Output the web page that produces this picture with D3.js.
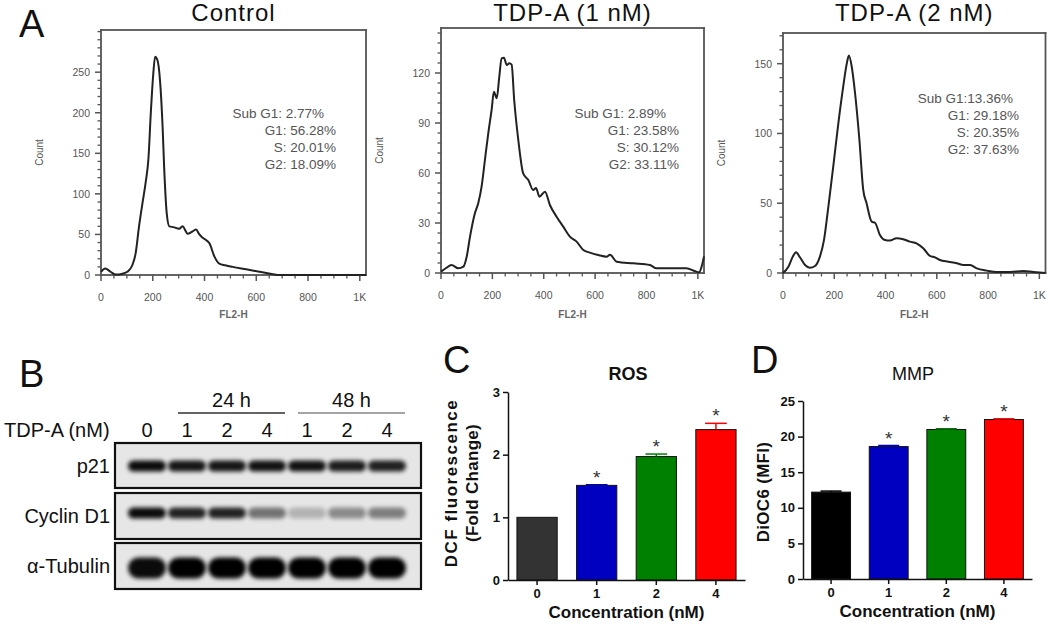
<!DOCTYPE html>
<html><head><meta charset="utf-8">
<script src="https://cdn.jsdelivr.net/npm/d3@7"></script>
<style>body{margin:0;background:#fff}svg{display:block}text{font-family:"Liberation Sans",Arial,sans-serif}</style>
</head><body><svg id="c" width="1050" height="624"></svg>
<script>
// ---------------- DATA ----------------
const histTitles = ["Control", "TDP-A (1 nM)", "TDP-A (2 nM)"];
// [FL2-H, count]
const controlHist = [[0,4],[16,8],[37,4],[57,0.5],[83,1.6],[102,4],[121,12],[134,27],[147,60],[160,88],[173,115],[183,142],[193,203],[202,248],[209,269],[218,265],[228,240],[238,183],[244,133],[254,76],[264,60],[280,59],[302,57],[315,60],[335,51],[350,53],[367,56],[380,50],[393,46],[419,39],[438,23],[457,14],[480,12],[509,10],[561,7],[612,4],[664,1],[690,0],[750,0],[1024,0]];
const tdp1Hist = [[0,0.8],[20,3],[41,4.8],[67,2.8],[87,3.8],[100,9.8],[113,21.8],[132,35.8],[145,41.8],[158,51.8],[171,67.8],[184,83.8],[197,97.8],[206,108.8],[217,104.8],[227,117.8],[236,128.8],[245,129.2],[256,124.8],[266,125.8],[275,125],[285,103.8],[301,79.8],[320,59.8],[340,55.8],[359,49.8],[370,51],[383,45.8],[405,48.8],[424,40.8],[450,33.8],[476,27.8],[502,21.8],[528,18.8],[554,13.8],[580,12.2],[612,10.8],[645,9.8],[658,11],[684,6.8],[749,5.8],[813,4.8],[839,2.8],[956,2.8],[990,1],[1005,0.5],[1015,4],[1024,10]];
const tdp2Hist = [[0,0],[21,4.5],[38,11.7],[51,14.8],[66,11.3],[86,5.7],[105,3.8],[125,5],[144,11.7],[160,23.7],[177,47.6],[196,76.3],[216,107.4],[235,133.7],[248,149.3],[257,155.8],[268,148],[281,129],[298,95.5],[313,59.6],[326,50],[346,36.8],[359,36],[378,27.3],[398,23.7],[417,23.3],[443,24.9],[469,24.2],[495,22.5],[521,21.3],[547,17.7],[573,12.2],[593,11.2],[612,9.3],[645,8.1],[678,7],[704,5.7],[730,5.7],[756,3.3],[795,1.7],[834,0.7],[886,0.7],[938,1.4],[977,0.7],[1024,0]];
const controlStats = ["Sub G1: 2.77%", "G1: 56.28%", "S: 20.01%", "G2: 18.09%"];
const tdp1Stats = ["Sub G1: 2.89%", "G1: 23.58%", "S: 30.12%", "G2: 33.11%"];
const tdp2Stats = ["Sub G1:13.36%", "G1: 29.18%", "S:  20.35%", "G2: 37.63%"];
const histXTicks = [0, 200, 400, 600, 800, 1000];
const histXTickLabels = ["0", "200", "400", "600", "800", "1K"];
const controlYTicks = [0, 50, 100, 150, 200, 250];
const tdp1YTicks = [0, 30, 60, 90, 120];
const tdp2YTicks = [0, 50, 100, 150];
const controlYMax = 302, tdp1YMax = 147, tdp2YMax = 172;

const blotLanes = ["0", "1", "2", "4", "1", "2", "4"];
const blotGroups = ["24 h", "48 h"];
const blotGroupLanes = [[1, 3], [4, 6]];
const blotRows = ["p21", "Cyclin D1", "α-Tubulin"];
const p21Bands = [0.95, 0.9, 0.9, 0.92, 0.92, 0.88, 0.86];
const cyclinBands = [0.95, 0.85, 0.85, 0.5, 0.22, 0.4, 0.45];
const tubulinBands = [0.95, 1, 1, 1, 1, 1, 1];

const concentrations = ["0", "1", "2", "4"];
const rosMean = [1.0, 1.51, 1.97, 2.40];
const rosErr = [0, 0.01, 0.04, 0.10];
const mmpMean = [12.2, 18.6, 21.0, 22.4];
const mmpErr = [0.15, 0.15, 0.1, 0.1];
const significant = [false, true, true, true];
const rosColors = ["#333333", "#0000c0", "#008000", "#ff0000"];
const mmpColors = ["#000000", "#0000c0", "#008000", "#ff0000"];
const rosTicks = [0, 1, 2, 3];
const mmpTicks = [0, 5, 10, 15, 20, 25];

// ---------------- DRAW ----------------
const svg = d3.select("#c");

function panelLetter(t, x, y) {
  svg.append("text").attr("x", x).attr("y", y).attr("font-size", 38).attr("fill", "#111").text(t);
}
panelLetter("A", 19, 37);
panelLetter("B", 19, 387);
panelLetter("C", 443, 373);
panelLetter("D", 751, 373);

// ---- Histograms ----
const boxColor = "#555";
function histPanel(cfg) {
  const x = d3.scaleLinear().domain([0, 1024]).range([cfg.x0, cfg.x1]);
  const y = d3.scaleLinear().domain([0, cfg.ymax]).range([cfg.bottom, cfg.top]);
  const g = svg.append("g");
  const bx0 = x(0), bx1 = x(1024), by0 = y(cfg.ymax), by1 = y(0);
  const bw = 1.8;
  [[bx0 - bw / 2, by0 - bw / 2, bx1 - bx0 + bw, bw], [bx0 - bw / 2, by1 - bw / 2, bx1 - bx0 + bw, bw],
   [bx0 - bw / 2, by0 - bw / 2, bw, by1 - by0 + bw], [bx1 - bw / 2, by0 - bw / 2, bw, by1 - by0 + bw]]
    .forEach(r => g.append("rect").attr("x", r[0]).attr("y", r[1]).attr("width", r[2]).attr("height", r[3]).attr("fill", boxColor));
  const majX = histXTicks, minX = d3.range(0, 1025, 50).filter(v => !histXTicks.includes(v));
  const majY = cfg.yticks, minY = d3.range(0, cfg.ymax, cfg.minor).filter(v => !cfg.yticks.includes(v));
  majX.forEach(d => g.append("rect").attr("x", x(d) - 0.75).attr("y", by1).attr("width", 1.5).attr("height", 6).attr("fill", boxColor));
  minX.forEach(d => g.append("rect").attr("x", x(d) - 0.65).attr("y", by1).attr("width", 1.3).attr("height", 3.5).attr("fill", boxColor));
  majY.forEach(d => g.append("rect").attr("x", bx0 - 6).attr("y", y(d) - 0.75).attr("width", 6).attr("height", 1.5).attr("fill", boxColor));
  minY.forEach(d => g.append("rect").attr("x", bx0 - 3.5).attr("y", y(d) - 0.65).attr("width", 3.5).attr("height", 1.3).attr("fill", boxColor));
  g.selectAll(null).data(majX).join("text").attr("x", d => x(d)).attr("y", cfg.bottom + 26)
    .attr("text-anchor", "middle").attr("font-size", 10.5).attr("fill", "#555").text((d, i) => histXTickLabels[i]);
  g.selectAll(null).data(majY).join("text").attr("x", cfg.x0 - 11).attr("y", d => y(d) + 4)
    .attr("text-anchor", "end").attr("font-size", 10.5).attr("fill", "#555").text(d => d);
  g.append("path").datum(cfg.data)
    .attr("d", d3.line().x(d => x(d[0])).y(d => y(d[1])).curve(d3.curveMonotoneX))
    .attr("fill", "none").attr("stroke", "#222").attr("stroke-width", 2);
  const cx = (bx0 + bx1) / 2;
  g.append("text").attr("x", cx).attr("y", 21).attr("text-anchor", "middle").attr("font-size", 24)
    .attr("letter-spacing", 1).attr("fill", "#111").text(cfg.title);
  g.append("text").attr("transform", `translate(${cfg.countX},${(cfg.top + cfg.bottom) / 2}) rotate(-90)`)
    .attr("text-anchor", "middle").attr("font-size", 10).attr("fill", "#555").text("Count");
  g.append("text").attr("x", cx).attr("y", 318).attr("text-anchor", "middle").attr("font-size", 10)
    .attr("font-weight", "bold").attr("fill", "#666").text("FL2-H");
  cfg.stats.forEach((s, i) => {
    g.append("text").attr("x", cfg.statX - (i === 0 ? cfg.firstShift : 0)).attr("y", cfg.statY + i * 17)
      .attr("text-anchor", "end").attr("font-size", 13.5).attr("fill", "#555").text(s);
  });
}
histPanel({title: histTitles[0], data: controlHist, ymax: controlYMax, yticks: controlYTicks, minor: 10,
  x0: 101, x1: 366, top: 30, bottom: 275, countX: 43, stats: controlStats, statX: 336, statY: 118, firstShift: 12});
histPanel({title: histTitles[1], data: tdp1Hist, ymax: tdp1YMax, yticks: tdp1YTicks, minor: 6,
  x0: 441, x1: 704, top: 28, bottom: 273, countX: 383, stats: tdp1Stats, statX: 679, statY: 118, firstShift: 13});
histPanel({title: histTitles[2], data: tdp2Hist, ymax: tdp2YMax, yticks: tdp2YTicks, minor: 10,
  x0: 783, x1: 1045.5, top: 33, bottom: 273, countX: 725, stats: tdp2Stats, statX: 1019, statY: 103, firstShift: 6});

// ---- Western blot ----
const defs = svg.append("defs");
defs.append("filter").attr("id", "blur").attr("x", "-30%").attr("y", "-60%").attr("width", "160%").attr("height", "220%")
  .append("feGaussianBlur").attr("stdDeviation", 2.2);
const lane = d3.scaleBand().domain(d3.range(blotLanes.length)).range([127, 407]);
const bg = svg.append("g");
bg.append("text").attr("x", 4).attr("y", 437).attr("font-size", 20).attr("fill", "#111").text("TDP-A (nM)");
blotLanes.forEach((l, i) => {
  bg.append("text").attr("x", lane(i) + lane.bandwidth() / 2).attr("y", 437).attr("text-anchor", "middle")
    .attr("font-size", 20).attr("fill", "#111").text(l);
});
blotGroups.forEach((gname, k) => {
  const [a, b] = blotGroupLanes[k];
  const xa = lane(a) + lane.bandwidth() / 2 - 9, xb = lane(b) + lane.bandwidth() / 2 + 18;
  bg.append("rect").attr("x", xa).attr("y", 412.25).attr("width", xb - xa).attr("height", 1.5)
    .attr("fill", k === 0 ? "#333" : "#888");
  bg.append("text").attr("x", (xa + xb) / 2).attr("y", 407).attr("text-anchor", "middle")
    .attr("font-size", 20).attr("fill", "#111").text(gname);
});
const rowBoxes = [[443, 488], [493, 539], [543, 589]];
const rowBandY = [466, 513, 568];
const rowBandH = [11, 11, 21];
const rowData = [p21Bands, cyclinBands, tubulinBands];
rowBoxes.forEach((bx, r) => {
  bg.append("rect").attr("x", 115).attr("y", bx[0]).attr("width", 306).attr("height", bx[1] - bx[0])
    .attr("fill", "#e6e6e6");
  rowData[r].forEach((v, i) => {
    bg.append("rect").attr("x", lane(i) + 1).attr("y", rowBandY[r] - rowBandH[r] / 2)
      .attr("width", lane.bandwidth() - 2).attr("height", rowBandH[r])
      .attr("rx", rowBandH[r] / 2).attr("fill", "#000").attr("opacity", v).attr("filter", "url(#blur)");
  });
  bg.append("rect").attr("x", 115).attr("y", bx[0]).attr("width", 306).attr("height", bx[1] - bx[0])
    .attr("fill", "none").attr("stroke", "#111").attr("stroke-width", 2.2);
  bg.append("text").attr("x", 110).attr("y", (bx[0] + bx[1]) / 2 + 7).attr("text-anchor", "end")
    .attr("font-size", 20).attr("fill", "#111").text(blotRows[r]);
});

// ---- Bar charts ----
function barPanel(cfg) {
  const x = d3.scaleBand().domain(concentrations).range([cfg.x0, cfg.x1]).paddingInner(0.325).paddingOuter(0.15);
  const y = d3.scaleLinear().domain([0, cfg.ymax]).range([cfg.bottom, cfg.top]);
  const g = svg.append("g");
  g.selectAll("rect.bar").data(cfg.mean).join("rect").attr("class", "bar")
    .attr("x", (d, i) => x(concentrations[i])).attr("y", d => y(d)).attr("width", x.bandwidth())
    .attr("height", d => y(0) - y(d)).attr("fill", (d, i) => cfg.colors[i]).attr("stroke", "#111").attr("stroke-width", 1);
  cfg.mean.forEach((m, i) => {
    if (cfg.err[i] > 0) {
      const cx = x(concentrations[i]) + x.bandwidth() / 2;
      const c = i === 0 ? "#000" : cfg.colors[i];
      g.append("line").attr("x1", cx).attr("x2", cx).attr("y1", y(m)).attr("y2", y(m + cfg.err[i])).attr("stroke", c).attr("stroke-width", 1.5);
      g.append("line").attr("x1", cx - x.bandwidth() * 0.27).attr("x2", cx + x.bandwidth() * 0.27)
        .attr("y1", y(m + cfg.err[i])).attr("y2", y(m + cfg.err[i])).attr("stroke", c).attr("stroke-width", 1.5);
    }
    if (significant[i]) {
      g.append("text").attr("x", x(concentrations[i]) + x.bandwidth() / 2).attr("y", y(m + cfg.err[i]) - 1)
        .attr("text-anchor", "middle").attr("font-size", 19).attr("fill", "#333").text("*");
    }
  });
  const xa = g.append("g").attr("transform", `translate(0,${cfg.bottom})`)
    .call(d3.axisBottom(x).tickSize(5).tickSizeOuter(0).tickPadding(4));
  const ya = g.append("g").attr("transform", `translate(${cfg.x0},0)`)
    .call(d3.axisLeft(y).tickValues(cfg.ticks).tickFormat(d3.format("d")).tickSize(5).tickSizeOuter(0).tickPadding(3));
  [xa, ya].forEach(a => {
    a.select(".domain").attr("stroke", "#111").attr("stroke-width", 1.5);
    a.selectAll(".tick line").attr("stroke", "#111").attr("stroke-width", 1.5);
    a.selectAll("text").attr("font-size", 13).attr("font-weight", "bold").attr("fill", "#111").attr("font-family", "Liberation Sans, Arial");
  });
  g.append("text").attr("x", (cfg.x0 + cfg.x1) / 2).attr("y", cfg.bottom + 38).attr("text-anchor", "middle")
    .attr("font-size", 17).attr("font-weight", "bold").attr("fill", "#111").text("Concentration (nM)");
  g.append("text").attr("x", cfg.titleX).attr("y", 380).attr("text-anchor", "middle")
    .attr("font-size", 18).attr("font-weight", cfg.titleWeight).attr("fill", "#111").text(cfg.title);
  cfg.ylab.forEach((t, i) => {
    g.append("text").attr("transform", `translate(${cfg.ylabX[i]},${cfg.ylabY}) rotate(-90)`)
      .attr("text-anchor", "middle").attr("dy", "0.35em").attr("font-size", 17).attr("font-weight", "bold")
      .attr("letter-spacing", cfg.ylabSpacing[i]).attr("fill", "#111").text(t);
  });
}
barPanel({mean: rosMean, err: rosErr, colors: rosColors, ymax: 3, ticks: rosTicks, x0: 508, x1: 745, top: 392, bottom: 580,
  title: "ROS", titleX: 628, titleWeight: "bold", ylab: ["DCF fluorescence", "(Fold Change)"], ylabX: [451, 472], ylabSpacing: [1.5, 0.3], ylabY: 483});
barPanel({mean: mmpMean, err: mmpErr, colors: mmpColors, ymax: 25, ticks: mmpTicks, x0: 803, x1: 1032, top: 401, bottom: 579,
  title: "MMP", titleX: 913, titleWeight: "normal", ylab: ["DiOC6 (MFI)"], ylabX: [763], ylabSpacing: [0.3], ylabY: 492});
</script></body></html>
